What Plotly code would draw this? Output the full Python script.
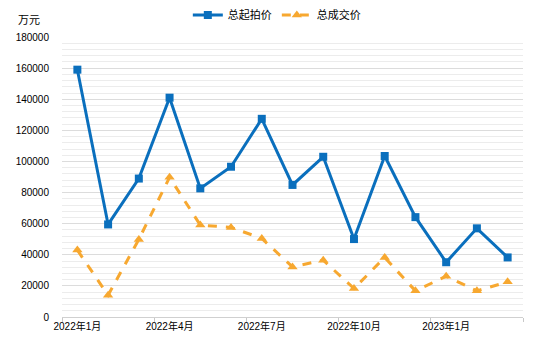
import plotly.graph_objects as go

months = ["2022年1月", "2022年2月", "2022年3月", "2022年4月", "2022年5月", "2022年6月",
          "2022年7月", "2022年8月", "2022年9月", "2022年10月", "2022年11月", "2022年12月",
          "2023年1月", "2023年2月", "2023年3月"]
start_price = [159000, 59500, 89000, 141000, 82700, 96600, 127400, 84900, 103000,
               50100, 103500, 64200, 35200, 57000, 38300]
deal_price = [43000, 14000, 49900, 89800, 59100, 57600, 50500, 32200, 36500,
              18300, 38300, 16800, 26200, 16800, 22600]

font_family = "Liberation Sans, Arial, Noto Sans CJK SC, sans-serif"

fig = go.Figure()
fig.add_trace(go.Scatter(
    x=months, y=start_price, name="总起拍价", mode="lines+markers",
    line=dict(color="#0A6FBD", width=3),
    marker=dict(symbol="square", size=8, color="#0A6FBD"),
))
fig.add_trace(go.Scatter(
    x=months, y=deal_price, name="总成交价", mode="lines+markers",
    line=dict(color="#F7A830", width=3, dash="dash"),
    marker=dict(symbol="triangle-up", size=9, color="#F7A830"),
))

fig.update_layout(
    width=554, height=349,
    margin=dict(l=62, r=31, t=37, b=32, autoexpand=False),
    paper_bgcolor="white", plot_bgcolor="white",
    font=dict(family=font_family, size=10, color="#000000"),
    showlegend=True,
    legend=dict(orientation="h", xref="paper", yref="paper",
                x=0.466, xanchor="center", y=1 + 22 / 280, yanchor="middle",
                font=dict(size=11), itemwidth=30, bgcolor="rgba(0,0,0,0)"),
    xaxis=dict(type="category", dtick=3, tickson="boundaries", tickangle=0,
               ticks="outside", ticklen=4, tickcolor="#c8c8c8",
               showline=True, linecolor="#d0d0d0", linewidth=1,
               showgrid=False, range=[-0.5, 14.5], automargin=False,
               tickfont=dict(size=10)),
    yaxis=dict(range=[0, 180000], dtick=20000, tickformat="d",
               showgrid=True, gridcolor="#dcdcdc", gridwidth=1,
               minor=dict(dtick=4000, showgrid=True, gridcolor="#ececec", gridwidth=1),
               showline=False, zeroline=True, zerolinecolor="#d0d0d0",
               ticks="", ticklabelstandoff=12, automargin=False,
               tickfont=dict(size=10)),
    annotations=[dict(text="万元", xref="paper", yref="paper", x=-0.1, y=1 + 9 / 280,
                      xanchor="left", yanchor="bottom", showarrow=False,
                      font=dict(size=11))],
)

fig.write_html("out.html")
